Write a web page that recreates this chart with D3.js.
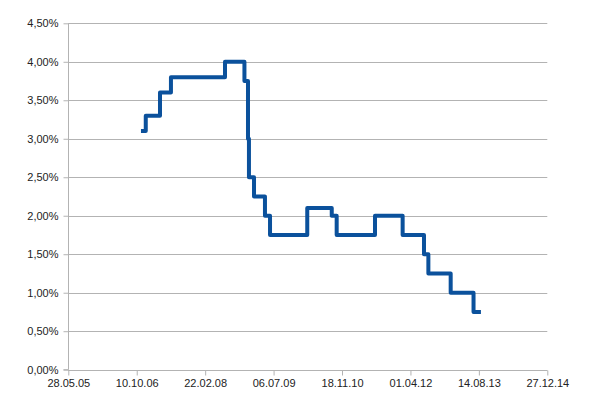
<!DOCTYPE html>
<html><head><meta charset="utf-8">
<script src="https://cdn.jsdelivr.net/npm/d3@7"></script>
<style>body{margin:0;background:#fff}svg{display:block}text{font-family:"Liberation Sans",Arial,sans-serif;font-size:11px;fill:#222}</style>
</head><body>
<script>
const dates = ["2006-11-10","2006-12-15","2007-03-29","2007-06-17","2008-07-16","2008-12-05","2008-12-31","2009-01-07","2009-02-13","2009-05-04","2009-06-10","2010-03-09","2010-09-04","2010-10-10","2011-07-17","2012-02-04","2012-07-09","2012-08-10","2013-01-20","2013-07-06","2013-08-29"];
const rates = [3.10,3.30,3.60,3.80,4.00,3.75,3.00,2.50,2.25,2.00,1.75,2.10,2.00,1.75,2.00,1.75,1.50,1.25,1.00,0.75,0.75];
const xTickLabels = ["28.05.05","10.10.06","22.02.08","06.07.09","18.11.10","01.04.12","14.08.13","27.12.14"];
const yTicks = [0,0.5,1,1.5,2,2.5,3,3.5,4,4.5];

const W=605,H=408, L=68.3, R=547.3, T=23.3, B=369.7;
const parseD = d3.utcParse("%d.%m.%y");
const xTickDates = xTickLabels.map(parseD);
const x = d3.scaleUtc().domain([xTickDates[0], xTickDates[xTickDates.length-1]]).range([L,R]);
const y = d3.scaleLinear().domain([0,4.5]).range([B,T]);
const svg = d3.select("body").append("svg").attr("width",W).attr("height",H);

svg.append("g").selectAll("line").data(yTicks).join("line")
  .attr("x1",L).attr("x2",R).attr("y1",d=>Math.round(y(d))+0.5).attr("y2",d=>Math.round(y(d))+0.5)
  .attr("stroke","#b3b3b3").attr("stroke-width",1);

const ya = svg.append("g").attr("transform",`translate(${Math.round(L)+0.5},0)`)
  .call(d3.axisLeft(y).tickValues(yTicks).tickSize(5).tickPadding(5)
    .tickFormat(d=>d3.format(".2f")(d).replace(".",",")+"%"));
ya.select(".domain").attr("stroke","#b3b3b3").attr("d",`M-5,${B}H0V${T}`);
ya.selectAll(".tick line").attr("stroke","#b3b3b3");
ya.selectAll(".tick text").style("font-family","Liberation Sans, Arial, sans-serif").style("font-size","11px").attr("fill","#222");

const xa = svg.append("g").attr("transform",`translate(0,${Math.round(B)+0.5})`)
  .call(d3.axisBottom(x).tickValues(xTickDates).tickSize(5).tickPadding(4)
    .tickFormat((d,i)=>xTickLabels[i]));
xa.select(".domain").attr("stroke","#b3b3b3").attr("d",`M${L},0H${R}`);
xa.selectAll(".tick line").attr("stroke","#b3b3b3");
xa.selectAll(".tick text").style("font-family","Liberation Sans, Arial, sans-serif").style("font-size","11px").attr("fill","#222");

const data = dates.map((d,i)=>({d:d3.utcParse("%Y-%m-%d")(d), v:rates[i]}));
svg.append("path").datum(data)
  .attr("fill","none").attr("stroke","#0b519c").attr("stroke-width",4)
  .attr("stroke-linejoin","round")
  .attr("d", d3.line().x(p=>x(p.d)).y(p=>y(p.v)).curve(d3.curveStepAfter));
</script>
</body></html>
